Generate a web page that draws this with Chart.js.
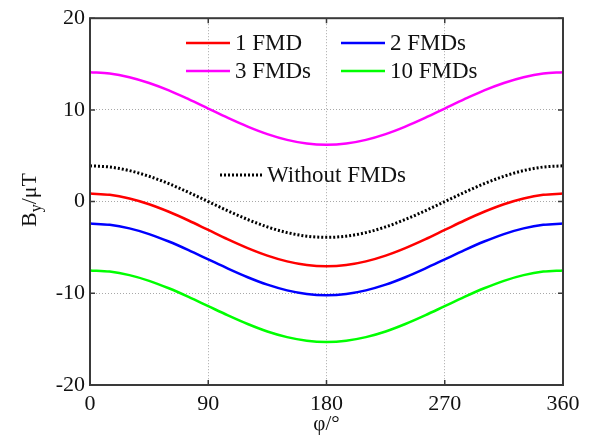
<!DOCTYPE html>
<html>
<head>
<meta charset="utf-8">
<script src="https://cdn.jsdelivr.net/npm/chart.js@4.4.1/dist/chart.umd.min.js"></script>
<style>
  html, body { margin: 0; padding: 0; background: #fff; }
  #wrap { width: 593px; height: 437px; }
</style>
</head>
<body>
<div id="wrap"><canvas id="byChart" width="593" height="437"></canvas></div>
<script>
// phi in degrees, sampled every 15
const phi = [0, 15, 30, 45, 60, 75, 90, 105, 120, 135, 150, 165, 180,
             195, 210, 225, 240, 255, 270, 285, 300, 315, 330, 345, 360];

const withoutFmd = [3.9, 3.77, 3.38, 2.76, 1.95, 1.01, 0, -1.01, -1.95, -2.76, -3.38, -3.77, -3.9,
                    -3.77, -3.38, -2.76, -1.95, -1.01, 0, 1.01, 1.95, 2.76, 3.38, 3.77, 3.9];
const fmd1 = [0.87, 0.74, 0.34, -0.29, -1.11, -2.06, -3.09, -4.12, -5.07, -5.89, -6.52, -6.92, -7.05,
              -6.92, -6.52, -5.89, -5.07, -4.12, -3.09, -2.06, -1.11, -0.29, 0.34, 0.74, 0.87];
const fmd2 = [-2.4, -2.53, -2.92, -3.54, -4.35, -5.29, -6.3, -7.31, -8.25, -9.06, -9.68, -10.07, -10.2,
              -10.07, -9.68, -9.06, -8.25, -7.31, -6.3, -5.29, -4.35, -3.54, -2.92, -2.53, -2.4];
const fmd3 = [14.1, 13.97, 13.57, 12.94, 12.13, 11.17, 10.15, 9.13, 8.18, 7.36, 6.73, 6.33, 6.2,
              6.33, 6.73, 7.36, 8.18, 9.13, 10.15, 11.17, 12.13, 12.94, 13.57, 13.97, 14.1];
const fmd10 = [-7.5, -7.63, -8.02, -8.64, -9.45, -10.39, -11.4, -12.41, -13.35, -14.16, -14.78, -15.17, -15.3,
               -15.17, -14.78, -14.16, -13.35, -12.41, -11.4, -10.39, -9.45, -8.64, -8.02, -7.63, -7.5];

const xTicks = [0, 90, 180, 270, 360];
const yTicks = [-20, -10, 0, 10, 20];

const FONT = '"Liberation Serif", "Times New Roman", serif';

function pts(ys) {
    return phi.map((p, i) => ({ x: p, y: ys[i] }));
}

function series(label, ys, color, dash) {
    return {
        label: label,
        data: pts(ys),
        borderColor: color,
        backgroundColor: color,
        borderWidth: dash ? 3 : 2.5,
        borderDash: dash || [],
        pointRadius: 0,
        cubicInterpolationMode: 'monotone',
        fill: false
    };
}

// frame with inward ticks, axis title with subscript and the in-plot legend
const decorations = {
    id: 'decorations',
    afterDraw(chart) {
        const ctx = chart.ctx;
        const a = chart.chartArea;
        const sx = chart.scales.x, sy = chart.scales.y;
        ctx.save();
        ctx.strokeStyle = '#3a3a3a';
        ctx.lineWidth = 2;
        ctx.strokeRect(a.left, a.top, a.right - a.left, a.bottom - a.top);
        ctx.lineWidth = 1.5;
        ctx.beginPath();
        xTicks.forEach(v => {
            const px = sx.getPixelForValue(v);
            ctx.moveTo(px, a.bottom); ctx.lineTo(px, a.bottom - 5);
            ctx.moveTo(px, a.top); ctx.lineTo(px, a.top + 5);
        });
        yTicks.forEach(v => {
            const py = sy.getPixelForValue(v);
            ctx.moveTo(a.left, py); ctx.lineTo(a.left + 5, py);
            ctx.moveTo(a.right, py); ctx.lineTo(a.right - 5, py);
        });
        ctx.stroke();

        // y axis title: B_y/μT
        ctx.fillStyle = '#111';
        ctx.translate(30, 200);
        ctx.rotate(-Math.PI / 2);
        ctx.textBaseline = 'alphabetic';
        ctx.font = '22px ' + FONT;
        let w = ctx.measureText('B').width;
        let total = w + 8 + ctx.measureText('/μT').width;
        let x0 = -total / 2;
        ctx.fillText('B', x0, 6);
        ctx.font = '16px ' + FONT;
        ctx.fillText('y', x0 + w, 11);
        ctx.font = '22px ' + FONT;
        ctx.fillText('/μT', x0 + w + 8, 6);
        ctx.restore();

        // legend entries
        const ds = chart.data.datasets;
        const spots = [
            { i: 1, x: 186, y: 43 },
            { i: 2, x: 341, y: 43 },
            { i: 3, x: 186, y: 71 },
            { i: 4, x: 341, y: 71 },
            { i: 0, x: 220, y: 175 }
        ];
        ctx.save();
        ctx.font = '23px ' + FONT;
        ctx.textBaseline = 'middle';
        spots.forEach(s => {
            const d = ds[s.i];
            const len = s.i === 0 ? 42 : 44;
            ctx.strokeStyle = d.borderColor;
            ctx.lineWidth = d.borderWidth;
            ctx.setLineDash(d.borderDash);
            ctx.beginPath();
            ctx.moveTo(s.x, s.y);
            ctx.lineTo(s.x + len, s.y);
            ctx.stroke();
            ctx.setLineDash([]);
            ctx.fillStyle = '#111';
            ctx.fillText(d.label, s.x + len + 5, s.y + 1);
        });
        ctx.restore();
    }
};

new Chart(document.getElementById('byChart').getContext('2d'), {
    type: 'line',
    data: {
        datasets: [
            series('Without FMDs', withoutFmd, '#000000', [2, 2]),
            series('1 FMD', fmd1, '#ff0000'),
            series('2 FMDs', fmd2, '#0000ff'),
            series('3 FMDs', fmd3, '#ff00ff'),
            series('10 FMDs', fmd10, '#00ff00')
        ]
    },
    options: {
        responsive: false,
        animation: false,
        layout: { padding: { left: 0, right: 30, top: 16, bottom: 0 } },
        plugins: {
            legend: { display: false },
            tooltip: { enabled: false }
        },
        scales: {
            x: {
                type: 'linear',
                min: 0,
                max: 360,
                afterBuildTicks: s => { s.ticks = xTicks.map(v => ({ value: v })); },
                afterFit: s => { s.height = 52; },
                ticks: {
                    color: '#111',
                    font: { family: FONT, size: 22 },
                    padding: 6,
                    maxRotation: 0
                },
                grid: {
                    color: '#a8a8a8',
                    lineWidth: 1,
                    tickLength: 0
                },
                border: { display: false, dash: [1, 2] },
                title: {
                    display: true,
                    text: 'φ/°',
                    color: '#111',
                    font: { family: FONT, size: 21 },
                    padding: { top: -8, bottom: 0 }
                }
            },
            y: {
                min: -20,
                max: 20,
                afterBuildTicks: s => { s.ticks = yTicks.map(v => ({ value: v })); },
                afterFit: s => { s.width = 90; },
                ticks: {
                    color: '#111',
                    font: { family: FONT, size: 22 },
                    padding: 5
                },
                grid: {
                    color: '#a8a8a8',
                    lineWidth: 1,
                    tickLength: 0
                },
                border: { display: false, dash: [1, 2] }
            }
        }
    },
    plugins: [decorations]
});
</script>
</body>
</html>
